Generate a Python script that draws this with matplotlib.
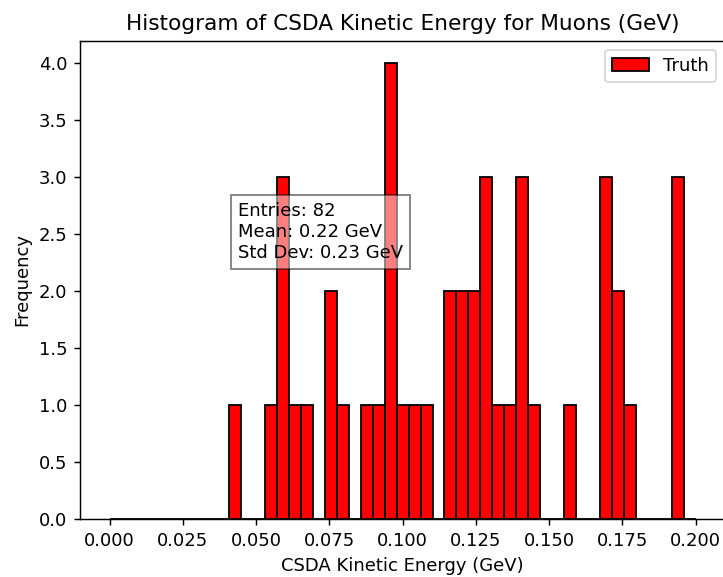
import numpy as np
import matplotlib
matplotlib.use("Agg")
import matplotlib.pyplot as plt

# Histogram binning (49 bins from 0 to 0.2 GeV)
bin_edges = np.linspace(0.0, 0.2, 50)
counts = [0, 0, 0, 0, 0, 0, 0, 0, 0, 0,
          1, 0, 0, 1, 3, 1, 1, 0, 2, 1,
          0, 1, 1, 4, 1, 1, 1, 0, 2, 2,
          2, 3, 1, 1, 3, 1, 0, 0, 1, 0,
          0, 3, 2, 1, 0, 0, 0, 3, 0]
series_label = "Truth"
stats_text = "Entries: 82\nMean: 0.22 GeV\nStd Dev: 0.23 GeV"

centers = 0.5 * (bin_edges[:-1] + bin_edges[1:])

DPI = 130
fig = plt.figure(figsize=(723 / DPI, 577 / DPI), dpi=DPI)
ax = fig.add_axes([80.2 / 723, (577 - 519.3) / 577, (725 - 80.2) / 723, (519.3 - 40.7) / 577])
ax.hist(centers, bins=bin_edges, weights=counts, color="red", edgecolor="black", label=series_label)
ax.set_title("Histogram of CSDA Kinetic Energy for Muons (GeV)")
ax.set_xlabel("CSDA Kinetic Energy (GeV)")
ax.set_ylabel("Frequency")
ax.legend(loc="upper right")
ax.text(0.2448, 0.662, stats_text, transform=ax.transAxes, va="top", ha="left",
        bbox=dict(facecolor="white", alpha=0.5))
fig.savefig("out.png", dpi=DPI)
